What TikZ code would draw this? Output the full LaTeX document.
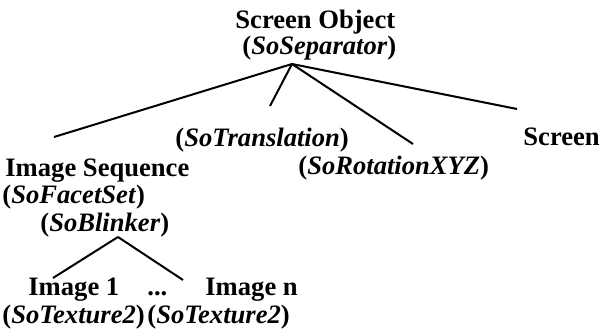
\documentclass[tikz,border=0pt]{standalone}
\usepackage{fontspec}
\setmainfont{Liberation Serif}
\begin{document}
\begin{tikzpicture}[x=0.5pt,y=-0.5pt,
  lbl/.style={inner sep=0pt,anchor=base west,font=\fontsize{13.3}{15}\selectfont\bfseries},
  edge/.style={line width=1pt,black}]
\useasboundingbox (0,0) rectangle (601,335);
% labels
\node[lbl] (rootA) at (235,29) {Screen Object};
\node[lbl] (rootB) at (242,55) {(\textit{SoSeparator})};
\node[lbl] (trans) at (175,147) {(\textit{SoTranslation})};
\node[lbl] (screen) at (523,146) {Screen};
\node[lbl] (rot) at (298,175) {(\textit{SoRotationXYZ})};
\node[lbl] (seqA) at (5,177) {Image Sequence};
\node[lbl] (seqB) at (2,204) {(\textit{SoFacetSet})};
\node[lbl] (blink) at (40,232) {(\textit{SoBlinker})};
\node[lbl] (img1) at (28,296) {Image 1};
\node[lbl] (dots) at (147,296) {...};
\node[lbl] (imgn) at (205,296) {Image n};
\node[lbl] (tex1) at (2,324) {(\textit{SoTexture2})};
\node[lbl] (texn) at (147,324) {(\textit{SoTexture2})};
% connector ends
\coordinate (rootApex) at (292,64);
\coordinate (seqTop) at (54,137);
\coordinate (transTop) at (270,106);
\coordinate (rotTop) at (413,144);
\coordinate (screenTop) at (517,109);
\coordinate (blinkApex) at (118,237);
\coordinate (img1Top) at (53,278);
\coordinate (imgnTop) at (183,280);
% connectors
\draw[edge] (rootApex) -- (seqTop);
\draw[edge] (rootApex) -- (transTop);
\draw[edge] (rootApex) -- (rotTop);
\draw[edge] (rootApex) -- (screenTop);
\draw[edge] (blinkApex) -- (img1Top);
\draw[edge] (blinkApex) -- (imgnTop);
\end{tikzpicture}
\end{document}
